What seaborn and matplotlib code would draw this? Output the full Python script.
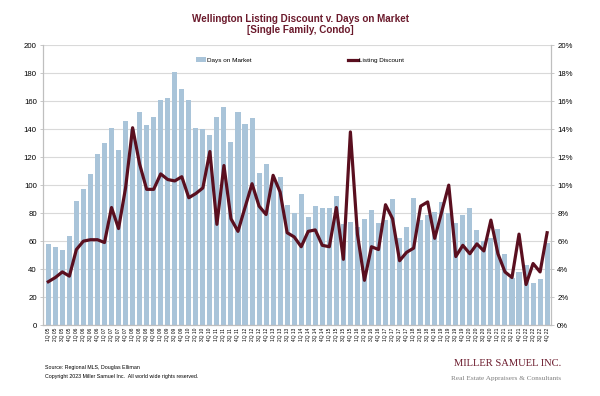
import numpy as np
import pandas as pd
import seaborn as sns
import matplotlib.pyplot as plt
import matplotlib.ticker as mtick
from matplotlib.patches import Patch
from matplotlib.lines import Line2D

# ==============================================================================
# DADOS
# ==============================================================================

anos = list(range(2005, 2023))
trimestres = [f"{q}Q {a % 100:02d}" for a in anos for q in range(1, 5)]

# Days on Market (eixo esquerdo)
dias_mercado = [
    58, 56, 54, 64,  89, 97, 108, 122,  130, 141, 125, 146,
    140, 152, 143, 149,  161, 162, 181, 169,  161, 141, 140, 136,
    149, 156, 131, 152,  144, 148, 109, 115,  104, 106, 86, 80,
    94, 77, 85, 84,  84, 92, 72, 74,  70, 76, 82, 73,
    75, 90, 62, 70,  91, 75, 79, 81,  88, 80, 73, 79,
    84, 68, 60, 62,  69, 51, 34, 38,  43, 30, 33, 59,
]

# Listing Discount em % (eixo direito)
desconto = [
    3.1, 3.4, 3.8, 3.5,  5.4, 6.0, 6.1, 6.1,  5.9, 8.4, 6.9, 9.8,
    14.1, 11.5, 9.7, 9.7,  10.8, 10.4, 10.3, 10.6,  9.1, 9.4, 9.8, 12.4,
    7.2, 11.4, 7.6, 6.7,  8.4, 10.1, 8.5, 7.9,  10.7, 9.5, 6.6, 6.3,
    5.6, 6.7, 6.8, 5.7,  5.6, 8.4, 4.7, 13.8,  6.5, 3.2, 5.6, 5.4,
    8.6, 7.6, 4.6, 5.2,  5.5, 8.5, 8.8, 6.2,  8.1, 10.0, 4.9, 5.7,
    5.1, 5.8, 5.3, 7.5,  5.1, 3.8, 3.4, 6.5,  2.9, 4.4, 3.8, 6.6,
]

df = pd.DataFrame({"trimestre": trimestres, "dias": dias_mercado, "desconto": desconto})
df["pos"] = np.arange(len(df))

cor_barra = "#a9c4d9"
cor_linha = "#5a0f1f"
cor_titulo = "#6b1a2c"
cor_grade = "#d9d9d9"

plt.rcParams["font.family"] = ["Liberation Sans", "DejaVu Sans"]

# ==============================================================================
# GRÁFICO
# ==============================================================================

fig = plt.figure(figsize=(6, 3.96), dpi=100)
ax = fig.add_axes([0.0717, 0.179, 0.8466, 0.707])

sns.barplot(data=df, x="trimestre", y="dias", color=cor_barra, width=0.72,
            saturation=1, ax=ax, zorder=2)
ax.set_ylim(0, 200)
ax.set_yticks(range(0, 201, 20))
ax.set_xlim(-0.75, 71.55)
ax.yaxis.grid(True, color=cor_grade, linewidth=0.8, zorder=0)
ax.set_axisbelow(True)
ax.set_xlabel("")
ax.set_ylabel("")
ax.tick_params(axis="y", labelsize=5.6, length=2.5, width=0.6, color="#bfbfbf", pad=2)
ax.tick_params(axis="x", labelsize=3.5, length=0, rotation=90, pad=2)

ax2 = ax.twinx()
sns.lineplot(data=df, x="pos", y="desconto", color=cor_linha, linewidth=2.3, ax=ax2)
ax2.set_ylim(0, 20)
ax2.set_yticks(range(0, 21, 2))
ax2.yaxis.set_major_formatter(mtick.PercentFormatter(decimals=0))
ax2.set_ylabel("")
ax2.tick_params(axis="y", labelsize=5.6, length=2.5, width=0.6, color="#bfbfbf", pad=2)

for a in (ax, ax2):
    a.spines["top"].set_visible(False)
    for s in ("left", "right", "bottom"):
        a.spines[s].set_color("#bfbfbf")
        a.spines[s].set_linewidth(0.8)

# Legenda
handles = [Patch(facecolor=cor_barra), Line2D([0], [0], color=cor_linha, linewidth=2.3)]
ax.legend(handles, ["Days on Market", "Listing Discount"], ncol=2, frameon=False,
          fontsize=4.6, loc="center", bbox_to_anchor=(0.5, 0.848),
          bbox_transform=fig.transFigure, columnspacing=15, handlelength=1.6,
          handletextpad=0.2)

# Título
fig.text(0.5, 0.938, "Wellington Listing Discount v. Days on Market\n[Single Family, Condo]",
         ha="center", va="center", fontsize=7.1, fontweight="bold", color=cor_titulo,
         linespacing=1.15)

# Rodapé
fig.text(0.075, 0.073, "Source: Regional MLS, Douglas Elliman", fontsize=3.8, va="center")
fig.text(0.075, 0.05, "Copyright 2023 Miller Samuel Inc.  All world wide rights reserved.",
         fontsize=3.8, va="center")
fig.text(0.935, 0.083, "MILLER SAMUEL INC.", fontsize=7.6, ha="right", va="center",
         color="#6b1a2c", family="Liberation Serif")
fig.text(0.935, 0.045, "Real Estate Appraisers & Consultants", fontsize=5.2, ha="right",
         va="center", color="#7f7f7f", family="Liberation Serif")

fig.savefig("out.png", dpi=100)
